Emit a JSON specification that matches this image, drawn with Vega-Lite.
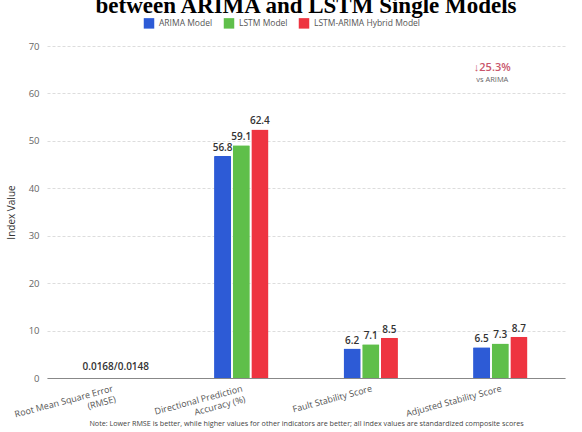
{
  "$schema": "https://vega.github.io/schema/vega-lite/v6.json",
  "autosize": {"type": "none"},
  "width": 518,
  "height": 332,
  "padding": {"left": 47, "top": 46, "right": 17, "bottom": 54},
  "background": "white",
  "title": {
    "text": "between ARIMA and LSTM Single Models",
    "font": "Liberation Serif",
    "fontSize": 23,
    "fontWeight": "bold",
    "color": "#000000",
    "anchor": "middle",
    "offset": -1
  },
  "config": {
    "font": "Open Sans",
    "view": {"stroke": null}
  },
  "datasets": {
    "bars": [
      {"category": "Root Mean Square Error (RMSE)", "model": "ARIMA Model", "value": 0.0168, "label": ""},
      {"category": "Root Mean Square Error (RMSE)", "model": "LSTM Model", "value": 0.0148, "label": ""},
      {"category": "Root Mean Square Error (RMSE)", "model": "LSTM-ARIMA Hybrid Model", "value": 0.0125, "label": ""},
      {"category": "Directional Prediction Accuracy (%)", "model": "ARIMA Model", "value": 46.8, "label": "56.8"},
      {"category": "Directional Prediction Accuracy (%)", "model": "LSTM Model", "value": 49.1, "label": "59.1"},
      {"category": "Directional Prediction Accuracy (%)", "model": "LSTM-ARIMA Hybrid Model", "value": 52.4, "label": "62.4"},
      {"category": "Fault Stability Score", "model": "ARIMA Model", "value": 6.2, "label": "6.2"},
      {"category": "Fault Stability Score", "model": "LSTM Model", "value": 7.1, "label": "7.1"},
      {"category": "Fault Stability Score", "model": "LSTM-ARIMA Hybrid Model", "value": 8.5, "label": "8.5"},
      {"category": "Adjusted Stability Score", "model": "ARIMA Model", "value": 6.5, "label": "6.5"},
      {"category": "Adjusted Stability Score", "model": "LSTM Model", "value": 7.3, "label": "7.3"},
      {"category": "Adjusted Stability Score", "model": "LSTM-ARIMA Hybrid Model", "value": 8.7, "label": "8.7"}
    ],
    "rmse": [
      {"category": "Root Mean Square Error (RMSE)", "y": 0, "text": "0.0168/0.0148"}
    ],
    "annot1": [
      {"category": "Adjusted Stability Score", "y": 65.3, "text": "↓25.3%"}
    ],
    "annot2": [
      {"category": "Adjusted Stability Score", "y": 62.9, "text": "vs ARIMA"}
    ]
  },
  "encoding": {
    "x": {
      "field": "category",
      "type": "nominal",
      "sort": ["Root Mean Square Error (RMSE)", "Directional Prediction Accuracy (%)", "Fault Stability Score", "Adjusted Stability Score"],
      "scale": {"paddingInner": 0.58, "paddingOuter": 0.29},
      "axis": {
        "title": "Note: Lower RMSE is better, while higher values for other indicators are better; all index values are standardized composite scores",
        "titleFontSize": 7.2,
        "titleFontWeight": "normal",
        "titleColor": "#444444",
        "titleY": 41,
        "titleBaseline": "top",
        "labelAngle": -15,
        "labelFontSize": 9,
        "labelColor": "#555555",
        "labelPadding": 6,
        "labelLineHeight": 11,
        "ticks": false,
        "domainColor": "#888888",
        "domainWidth": 1,
        "labelExpr": "datum.value == 'Root Mean Square Error (RMSE)' ? ['Root Mean Square Error', '(RMSE)'] : datum.value == 'Directional Prediction Accuracy (%)' ? ['Directional Prediction', 'Accuracy (%)'] : datum.value"
      }
    }
  },
  "layer": [
    {
      "data": {"name": "bars"},
      "mark": {"type": "bar", "cornerRadiusTopLeft": 1, "cornerRadiusTopRight": 1},
      "encoding": {
        "xOffset": {"field": "model", "type": "nominal", "sort": ["ARIMA Model", "LSTM Model", "LSTM-ARIMA Hybrid Model"], "scale": {"paddingInner": 0.08}},
        "y": {
          "field": "value",
          "type": "quantitative",
          "scale": {"domain": [0, 70], "nice": false},
          "axis": {
            "title": "Index Value",
            "titleFontSize": 10,
            "titleFontWeight": "normal",
            "titleColor": "#333333",
            "titlePadding": 12,
            "values": [0, 10, 20, 30, 40, 50, 60, 70],
            "labelFontSize": 9.5,
            "labelColor": "#666666",
            "labelPadding": 8,
            "ticks": false,
            "domain": false,
            "gridColor": "#dddddd",
            "gridDash": [3, 2],
            "gridWidth": 1
          }
        },
        "color": {
          "field": "model",
          "type": "nominal",
          "scale": {"domain": ["ARIMA Model", "LSTM Model", "LSTM-ARIMA Hybrid Model"], "range": ["#2d5bd6", "#5fbf4a", "#ee3440"]},
          "legend": {
            "title": null,
            "orient": "none",
            "direction": "horizontal",
            "legendX": 96,
            "legendY": -29,
            "symbolType": "square",
            "symbolSize": 110,
            "labelFontSize": 8.5,
            "labelColor": "#555555",
            "columnPadding": 10,
            "symbolOpacity": 1
          }
        }
      }
    },
    {
      "data": {"name": "bars"},
      "mark": {"type": "text", "baseline": "bottom", "dy": -3, "fontSize": 10, "fontWeight": 600, "color": "#333333"},
      "encoding": {
        "xOffset": {"field": "model", "type": "nominal", "sort": ["ARIMA Model", "LSTM Model", "LSTM-ARIMA Hybrid Model"], "scale": {"paddingInner": 0.08}},
        "y": {"field": "value", "type": "quantitative"},
        "text": {"field": "label"}
      }
    },
    {
      "data": {"name": "rmse"},
      "mark": {"type": "text", "baseline": "bottom", "dy": -6, "dx": 4, "fontSize": 10, "fontWeight": 600, "color": "#333333"},
      "encoding": {
        "y": {"field": "y", "type": "quantitative"},
        "text": {"field": "text"}
      }
    },
    {
      "data": {"name": "annot1"},
      "mark": {"type": "text", "baseline": "middle", "dx": -8, "fontSize": 11, "fontWeight": 600, "color": "#c9556b"},
      "encoding": {
        "y": {"field": "y", "type": "quantitative"},
        "text": {"field": "text"}
      }
    },
    {
      "data": {"name": "annot2"},
      "mark": {"type": "text", "baseline": "middle", "dx": -8, "fontSize": 7.5, "color": "#666666"},
      "encoding": {
        "y": {"field": "y", "type": "quantitative"},
        "text": {"field": "text"}
      }
    }
  ]
}
